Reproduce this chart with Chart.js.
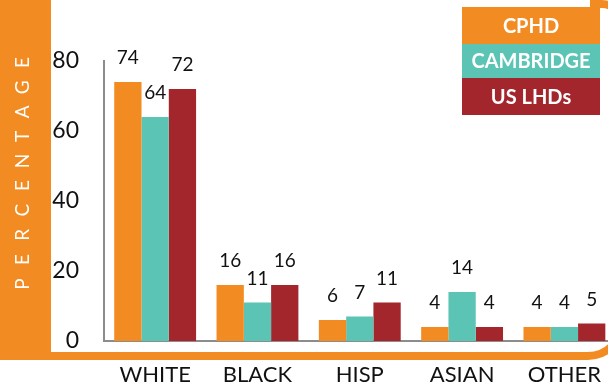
<!DOCTYPE html>
<html lang="en">
<head>
  <meta charset="UTF-8">
  <title>Race / Ethnicity</title>
  <script src="https://cdn.jsdelivr.net/npm/chart.js"></script>
  <style>
    html, body { margin: 0; padding: 0; background: #fff; overflow: hidden; }
    #wrap { width: 622px; height: 388px; }
  </style>
</head>
<body>
  <div id="wrap">
    <canvas id="raceChart" width="622" height="388"></canvas>
  </div>

  <script>
    const groups = ['WHITE', 'BLACK', 'HISP', 'ASIAN', 'OTHER'];
    const cphd = [74, 16, 6, 4, 4];
    const cambridge = [64, 11, 7, 14, 4];
    const usLhds = [72, 16, 11, 4, 5];
    const yTicks = [0, 20, 40, 60, 80];
    const seriesNames = ['CPHD', 'CAMBRIDGE', 'US LHDs'];

    const ORANGE = '#f28c22';
    const TEAL = '#5bc4b5';
    const RED = '#a3262d';
    const colors = [ORANGE, TEAL, RED];
    const FONT = 'Lato, "Open Sans", sans-serif';

    // orange frame: left band with the axis title, bottom band with a rounded end
    const framePlugin = {
      id: 'frame',
      beforeDraw(chart) {
        const ctx = chart.ctx;
        ctx.save();
        ctx.fillStyle = ORANGE;
        ctx.fillRect(0, 0, 51, 356);

        ctx.strokeStyle = ORANGE;
        ctx.lineWidth = 8;
        ctx.beginPath();
        ctx.moveTo(0, 356);
        ctx.lineTo(585, 356);
        ctx.arcTo(622, 356, 622, 320, 34);
        ctx.stroke();

        ctx.beginPath();
        ctx.moveTo(590, 4);
        ctx.arcTo(622, 4, 622, 40, 20);
        ctx.stroke();

        // spaced-out vertical title
        const title = 'PERCENTAGE';
        ctx.fillStyle = '#fff';
        ctx.font = '19px ' + FONT;
        ctx.textAlign = 'center';
        ctx.textBaseline = 'middle';
        for (let i = 0; i < title.length; i++) {
          ctx.save();
          ctx.translate(22, 284 - i * 24.6);
          ctx.rotate(-Math.PI / 2);
          ctx.fillText(title[i], 0, 1);
          ctx.restore();
        }
        ctx.restore();
      }
    };

    // numbers above each bar and the boxed legend
    const labelPlugin = {
      id: 'barLabels',
      afterDraw(chart) {
        const ctx = chart.ctx;
        ctx.save();
        ctx.fillStyle = '#111';
        ctx.font = '19px ' + FONT;
        ctx.textAlign = 'center';
        ctx.textBaseline = 'middle';
        chart.data.datasets.forEach((ds, i) => {
          chart.getDatasetMeta(i).data.forEach((bar, j) => {
            ctx.fillText(String(ds.data[j]), bar.x, bar.y - 24);
          });
        });

        const boxTop = [7, 44, 78];
        const boxBottom = [44, 78, 115];
        ctx.font = 'bold 20px ' + FONT;
        seriesNames.forEach((name, i) => {
          ctx.fillStyle = colors[i];
          ctx.fillRect(462, boxTop[i], 138, boxBottom[i] - boxTop[i]);
          ctx.fillStyle = '#fff';
          ctx.fillText(name, 531, (boxTop[i] + boxBottom[i]) / 2 + 1);
        });
        ctx.restore();
      }
    };

    new Chart(document.getElementById('raceChart'), {
      type: 'bar',
      data: {
        labels: groups,
        datasets: [
          { label: seriesNames[0], data: cphd, backgroundColor: ORANGE },
          { label: seriesNames[1], data: cambridge, backgroundColor: TEAL },
          { label: seriesNames[2], data: usLhds, backgroundColor: RED }
        ]
      },
      options: {
        responsive: false,
        animation: false,
        layout: { padding: { top: 61, left: 0, right: 0, bottom: 0 } },
        datasets: {
          bar: { categoryPercentage: 0.8, barPercentage: 1.0, borderWidth: 0 }
        },
        plugins: {
          legend: { display: false },
          tooltip: { enabled: false }
        },
        scales: {
          x: {
            grid: { display: false, drawTicks: false },
            border: { display: true, color: '#8c8c8c', width: 2 },
            ticks: { color: '#111', font: { family: FONT, size: 22 }, padding: 21 },
            afterFit(scale) { scale.height = 47; }
          },
          y: {
            min: 0,
            max: 80,
            grid: { display: false, drawTicks: false },
            border: { display: true, color: '#8c8c8c', width: 2 },
            afterBuildTicks(scale) { scale.ticks = yTicks.map(v => ({ value: v })); },
            ticks: { color: '#111', font: { family: FONT, size: 23 }, padding: 25 },
            afterFit(scale) { scale.width = 104; }
          }
        }
      },
      plugins: [framePlugin, labelPlugin]
    });
  </script>
</body>
</html>
